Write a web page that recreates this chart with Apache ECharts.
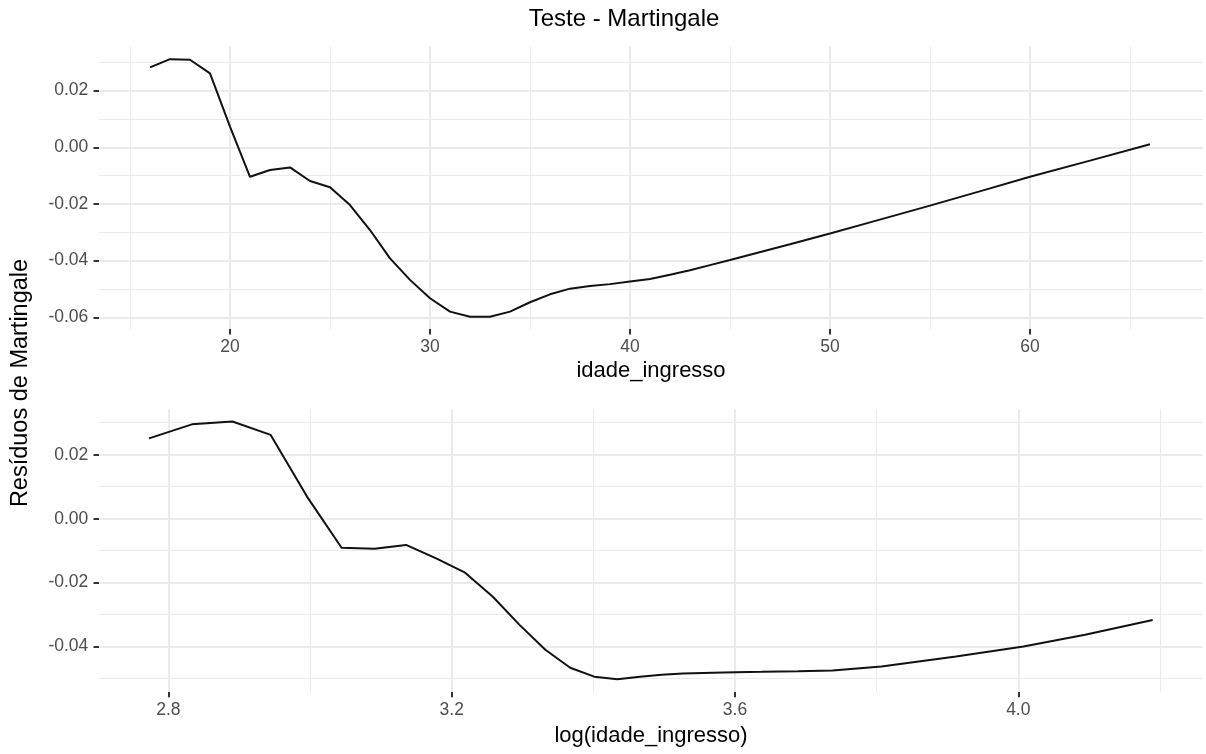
<!DOCTYPE html>
<html>
<head>
<meta charset="utf-8">
<script src="https://cdn.jsdelivr.net/npm/echarts@6/dist/echarts.min.js"></script>
<style>html,body{margin:0;padding:0;background:#fff;}#c{width:1206px;height:754px;}</style>
</head>
<body>
<div id="c"></div>
<script>
// ---- data ----
const ageTop = [16,17,18,19,20,21,22,23,24,25,26,27,28,29,30,31,32,33,34,35,36,37,38,39,40,41,42,43,44,45,48,50,52,55,58,60,63,66];
const residTop = [0.0282,0.0311,0.0309,0.0261,0.0073,-0.0104,-0.0080,-0.0071,-0.0119,-0.0141,-0.0204,-0.0292,-0.0392,-0.0468,-0.0533,-0.0580,-0.0598,-0.0598,-0.0580,-0.0547,-0.0519,-0.0499,-0.0490,-0.0483,-0.0474,-0.0465,-0.0450,-0.0434,-0.0416,-0.0398,-0.0342,-0.0304,-0.0265,-0.0206,-0.0145,-0.0104,-0.0047,0.0011];

const logAge = [2.7726,2.8332,2.8904,2.9444,2.9957,3.0445,3.0910,3.1355,3.1781,3.2189,3.2581,3.2958,3.3322,3.3673,3.4012,3.4340,3.4657,3.4965,3.5264,3.5835,3.6376,3.6889,3.7377,3.8067,3.9120,4.0073,4.0943,4.1897];
const residBottom = [0.0251,0.0295,0.0304,0.0262,0.0069,-0.0091,-0.0094,-0.0082,-0.0124,-0.0169,-0.0244,-0.0332,-0.0410,-0.0466,-0.0494,-0.0502,-0.0494,-0.0488,-0.0484,-0.0481,-0.0479,-0.0477,-0.0475,-0.0462,-0.0431,-0.0400,-0.0363,-0.0317];

// ticks
const topXTicks = [20,30,40,50,60];
const topXMinor = [15,25,35,45,55,65];
const topYTicks = [-0.06,-0.04,-0.02,0,0.02];
const topYMinor = [-0.05,-0.03,-0.01,0.01,0.03];
const botXTicks = [2.8,3.2,3.6,4.0];
const botXMinor = [3.0,3.4,3.8,4.2];
const botYTicks = [-0.04,-0.02,0,0.02];
const botYMinor = [-0.05,-0.03,-0.01,0.01,0.03];

const titleText = 'Teste - Martingale';
const yTitle = 'Resíduos de Martingale';
const xTitleTop = 'idade_ingresso';
const xTitleBottom = 'log(idade_ingresso)';

// ---- styles ----
const FONT = "'Liberation Sans', Arial, Helvetica, sans-serif";
const LABEL_COLOR = '#4D4D4D';
const GRID_COLOR = '#EBEBEB';

function gridLines(xMajor, xMinor, yMajor, yMinor) {
  const d = [];
  xMinor.forEach(v => d.push({xAxis: v, lineStyle: {color: GRID_COLOR, width: 1, type: 'solid'}}));
  yMinor.forEach(v => d.push({yAxis: v, lineStyle: {color: GRID_COLOR, width: 1, type: 'solid'}}));
  xMajor.forEach(v => d.push({xAxis: v, lineStyle: {color: GRID_COLOR, width: 2, type: 'solid'}}));
  yMajor.forEach(v => d.push({yAxis: v, lineStyle: {color: GRID_COLOR, width: 2, type: 'solid'}}));
  return {
    silent: true, symbol: ['none','none'], label: {show: false}, emphasis: {disabled: true},
    animation: false, z: 1, data: d
  };
}

function xAxisCfg(gridIndex, min, max, ticks, fmt) {
  return {
    type: 'value', gridIndex, min, max,
    axisLine: {show: false, onZero: false},
    axisTick: {show: true, length: 5.5, customValues: ticks, lineStyle: {color: '#333333', width: 2}},
    axisLabel: {show: true, margin: 9, customValues: ticks, color: LABEL_COLOR, fontSize: 17.5, fontFamily: FONT, formatter: fmt},
    splitLine: {show: false}
  };
}
function yAxisCfg(gridIndex, min, max, ticks) {
  return {
    type: 'value', gridIndex, min, max,
    axisLine: {show: false, onZero: false},
    axisTick: {show: true, length: 5.5, customValues: ticks, lineStyle: {color: '#333333', width: 2}},
    axisLabel: {show: true, margin: 10.7, customValues: ticks, color: LABEL_COLOR, fontSize: 17.5, fontFamily: FONT,
      formatter: v => (Math.abs(v) < 1e-9 ? 0 : v).toFixed(2)},
    splitLine: {show: false}
  };
}

const chart = echarts.init(document.getElementById('c'), null, {renderer: 'canvas'});
chart.setOption({
  animation: false,
  backgroundColor: '#ffffff',
  grid: [
    {left: 99, right: 3, top: 46.7, height: 282.3},
    {left: 99, right: 3, top: 409.3, height: 282.4}
  ],
  xAxis: [
    xAxisCfg(0, 13.45, 68.65, topXTicks, v => String(Math.round(v))),
    xAxisCfg(1, 2.702, 4.2608, botXTicks, v => v.toFixed(1))
  ],
  yAxis: [
    yAxisCfg(0, -0.06414, 0.03551, topYTicks),
    yAxisCfg(1, -0.0541, 0.0342, botYTicks)
  ],
  series: [
    {
      type: 'line', xAxisIndex: 0, yAxisIndex: 0, z: 3,
      data: ageTop.map((x, i) => [x, residTop[i]]),
      showSymbol: false, symbol: 'none', smooth: false,
      lineStyle: {color: '#111111', width: 2},
      markLine: gridLines(topXTicks, topXMinor, topYTicks, topYMinor)
    },
    {
      type: 'line', xAxisIndex: 1, yAxisIndex: 1, z: 3,
      data: logAge.map((x, i) => [x, residBottom[i]]),
      showSymbol: false, symbol: 'none', smooth: false,
      lineStyle: {color: '#111111', width: 2},
      markLine: gridLines(botXTicks, botXMinor, botYTicks, botYMinor)
    }
  ],
  graphic: [
    {type: 'text', x: 624, y: 19, style: {text: titleText, font: "24px " + FONT, fill: '#000', textAlign: 'center', textVerticalAlign: 'middle'}},
    {type: 'text', x: 21, y: 383, rotation: Math.PI / 2, style: {text: yTitle, font: "23.5px " + FONT, fill: '#000', textAlign: 'center', textVerticalAlign: 'middle'}},
    {type: 'text', x: 651, y: 371, style: {text: xTitleTop, font: "22px " + FONT, fill: '#000', textAlign: 'center', textVerticalAlign: 'middle'}},
    {type: 'text', x: 651, y: 736, style: {text: xTitleBottom, font: "22px " + FONT, fill: '#000', textAlign: 'center', textVerticalAlign: 'middle'}}
  ]
});
</script>
</body>
</html>
